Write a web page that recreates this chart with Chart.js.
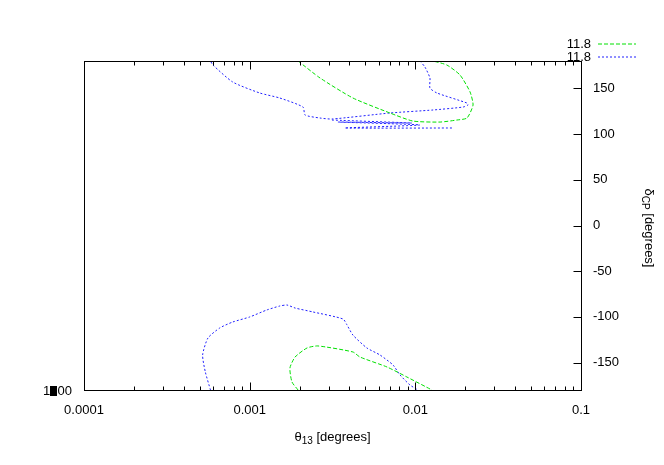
<!DOCTYPE html>
<html>
<head>
<meta charset="utf-8">
<script src="https://cdn.jsdelivr.net/npm/chart.js@4.4.1/dist/chart.umd.min.js"></script>
<style>html,body{margin:0;padding:0;background:#fff}</style>
</head>
<body>
<canvas id="c" width="664" height="465"></canvas>
<script>
// contour values: theta13 [degrees] and deltaCP [degrees]
const greenTopTheta = [0.00196, 0.00266, 0.00420, 0.00703, 0.00967, 0.0141, 0.0178, 0.0205, 0.0223, 0.0214, 0.0186, 0.0155, 0.0128];
const greenTopDelta = [180, 161.4, 139.5, 123.1, 114.3, 113.2, 115.4, 117.6, 131.8, 146.1, 164.7, 175.6, 180];
const greenBottomTheta = [0.00196, 0.00180, 0.00175, 0.00188, 0.00222, 0.00258, 0.00420, 0.00463, 0.00674, 0.00890, 0.0126];
const greenBottomDelta = [-180, -171.2, -155.9, -143.9, -134.0, -131.8, -138.4, -143.9, -154.8, -165.8, -180];

const blueTopTheta = [0.01066, 0.01143, 0.01225, 0.01225, 0.0135, 0.0205, 0.0208, 0.0194, 0.0128, 0.00703, 0.00314, 0.00266, 0.00216, 0.00210, 0.00152, 0.00115, 0.00079, 0.00060, 0.00058];
const blueTopDelta = [180, 173.4, 161.4, 150.4, 145.0, 134.0, 131.8, 129.6, 126.4, 123.1, 116.5, 117.6, 120.9, 129.6, 139.5, 145.0, 157.0, 175.6, 180];
const blueTangleTheta = [0.00314, 0.00954, 0.00341, 0.01066, 0.00376, 0.0169];
const blueTangleDelta = [115.4, 112.1, 113.2, 110.0, 106.7, 106.7];
const blueBottomTheta = [0.00058, 0.00054, 0.00052, 0.00056, 0.00066, 0.00079, 0.00100, 0.00127, 0.00152, 0.00168, 0.00188, 0.00241, 0.00366, 0.00387, 0.00420, 0.00510, 0.00612, 0.00733, 0.00808, 0.00928, 0.01037];
const blueBottomDelta = [-180, -160.3, -141.7, -123.1, -112.1, -105.6, -100.1, -92.4, -88.1, -87.0, -90.3, -94.6, -102.3, -108.9, -119.9, -134.0, -141.7, -152.6, -163.5, -174.5, -180];

const xTicks = [0.0001, 0.001, 0.01, 0.1];
const yTicks = [-150, -100, -50, 0, 50, 100, 150];
const seriesLabels = ['11.8', '11.8'];

function pts(xs, ys) {
  return xs.map((x, i) => ({ x, y: ys[i] }));
}
// join contour pieces with a gap so they are not connected
function join(...pieces) {
  const out = [];
  pieces.forEach((p, i) => {
    if (i) out.push({ x: null, y: null });
    out.push(...p);
  });
  return out;
}

const FAMILY = '"Liberation Sans", Arial, sans-serif';
Chart.defaults.font.family = FAMILY;
Chart.defaults.font.size = 13;
Chart.defaults.color = '#000';

const frame = {
  id: 'frame',
  afterDraw(chart) {
    const { ctx, chartArea: a, scales } = chart;
    const L = Math.round(a.left) + 0.5, R = Math.round(a.right) + 0.5;
    const T = Math.round(a.top) + 0.5, B = Math.round(a.bottom) + 0.5;
    ctx.save();
    ctx.strokeStyle = '#000';
    ctx.lineWidth = 1;
    ctx.strokeRect(L, T, R - L, B - T);
    ctx.beginPath();
    // x ticks, mirrored on top, with minor ticks
    xTicks.forEach((d, i) => {
      const px = Math.round(scales.x.getPixelForValue(d)) + 0.5;
      ctx.moveTo(px, B); ctx.lineTo(px, B - 8);
      ctx.moveTo(px, T); ctx.lineTo(px, T + 8);
      if (i < xTicks.length - 1) {
        for (let k = 2; k <= 9; k++) {
          const m = Math.round(scales.x.getPixelForValue(k * d)) + 0.5;
          ctx.moveTo(m, B); ctx.lineTo(m, B - 4);
          ctx.moveTo(m, T); ctx.lineTo(m, T + 4);
        }
      }
    });
    yTicks.forEach(v => {
      const py = Math.round(scales.y.getPixelForValue(v)) + 0.5;
      ctx.moveTo(R, py); ctx.lineTo(R - 8, py);
    });
    ctx.stroke();

    // axis titles with subscripts
    ctx.fillStyle = '#000';
    ctx.textBaseline = 'alphabetic';
    const big = '13px ' + FAMILY;
    const small = '10px ' + FAMILY;
    function sub(parts, x, y) {
      let w = 0;
      parts.forEach(p => { ctx.font = p[1] ? small : big; w += ctx.measureText(p[0]).width; });
      let cx = x - w / 2;
      ctx.textAlign = 'left';
      parts.forEach(p => {
        ctx.font = p[1] ? small : big;
        ctx.fillText(p[0], cx, y + (p[1] ? 3 : 0));
        cx += ctx.measureText(p[0]).width;
      });
    }
    sub([['\u03b8', 0], ['13', 1], [' [degrees]', 0]], (a.left + a.right) / 2, 441);
    ctx.save();
    ctx.translate(645, 228);
    ctx.rotate(Math.PI / 2);
    sub([['\u03b4', 0], ['CP', 1], [' [degrees]', 0]], 0, 0);
    ctx.restore();

    // stray left label left by the original plot
    ctx.font = big;
    ctx.textAlign = 'right';
    ctx.textBaseline = 'middle';
    ctx.fillText('1000', 72, a.bottom + 1);
    ctx.fillRect(50, a.bottom - 4, 7, 10);

    // key
    ctx.textAlign = 'right';
    chart.data.datasets.forEach((ds, i) => {
      const y = 44 + i * 13;
      ctx.fillText(ds.label, 591, y);
      ctx.beginPath();
      ctx.strokeStyle = ds.borderColor;
      ctx.setLineDash(ds.borderDash);
      ctx.moveTo(598, y);
      ctx.lineTo(636, y);
      ctx.stroke();
    });
    ctx.restore();
  }
};

new Chart(document.getElementById('c'), {
  type: 'scatter',
  data: {
    datasets: [
      {
        label: seriesLabels[0],
        data: join(pts(greenTopTheta, greenTopDelta), pts(greenBottomTheta, greenBottomDelta)),
        showLine: true, borderColor: '#00e000', borderWidth: 1, borderDash: [4, 2],
        pointRadius: 0, tension: 0.2, spanGaps: false
      },
      {
        label: seriesLabels[1],
        data: join(pts(blueTopTheta, blueTopDelta), pts(blueTangleTheta, blueTangleDelta), pts(blueBottomTheta, blueBottomDelta)),
        showLine: true, borderColor: '#2020ff', borderWidth: 1, borderDash: [2, 2],
        pointRadius: 0, tension: 0.2, spanGaps: false
      }
    ]
  },
  options: {
    responsive: false,
    animation: false,
    layout: { padding: { left: 84, top: 61, right: 0, bottom: 0 } },
    plugins: { legend: { display: false }, tooltip: { enabled: false } },
    scales: {
      x: {
        type: 'logarithmic', min: 0.0001, max: 0.1,
        grid: { display: false, drawTicks: false }, border: { display: false },
        afterBuildTicks: s => { s.ticks = xTicks.map(v => ({ value: v })); },
        afterFit: s => { s.height = 75; },
        ticks: { padding: 13, maxRotation: 0, autoSkip: false, callback: v => String(v) }
      },
      y: {
        position: 'right', min: -180, max: 180,
        grid: { display: false, drawTicks: false }, border: { display: false },
        afterBuildTicks: s => { s.ticks = yTicks.map(v => ({ value: v })); },
        afterFit: s => { s.width = 83; },
        ticks: { padding: 12, autoSkip: false }
      }
    }
  },
  plugins: [frame]
});
</script>
</body>
</html>
